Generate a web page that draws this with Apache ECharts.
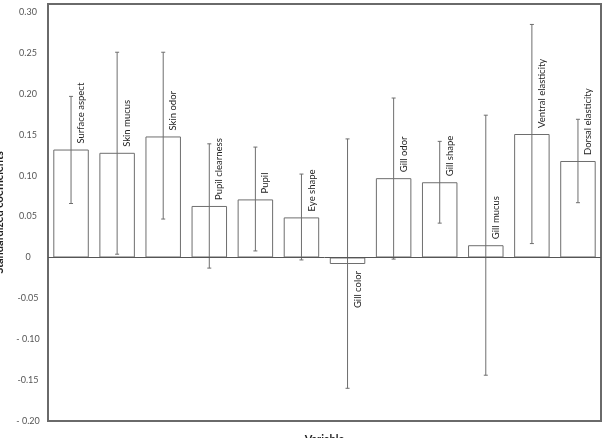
<!DOCTYPE html>
<html><head><meta charset="utf-8">
<script src="https://cdn.jsdelivr.net/npm/echarts@6/dist/echarts.min.js"></script>
<style>html,body{margin:0;padding:0;background:#fff}#c{width:603px;height:438px}</style>
</head><body><div id="c"></div>
<script>
const categories = ['Surface aspect','Skin mucus','Skin odor','Pupil clearness','Pupil','Eye shape','Gill color','Gill odor','Gill shape','Gill mucus','Ventral elasticity','Dorsal elasticity'];
const coefficients = [0.132, 0.128, 0.148, 0.063, 0.071, 0.049, -0.008, 0.097, 0.092, 0.015, 0.151, 0.118];
const errLow  = [0.066, 0.004, 0.047, -0.013, 0.008, -0.003, -0.160, -0.002, 0.042, -0.144, 0.017, 0.067];
const errHigh = [0.197, 0.251, 0.251, 0.139, 0.135, 0.102, 0.145, 0.195, 0.142, 0.174, 0.285, 0.169];
const yTickValues = [-0.20, -0.15, -0.10, -0.05, 0, 0.05, 0.10, 0.15, 0.20, 0.25, 0.30];
const yTickLabels = ['- 0.20', '-0.15', '- 0.10', '-0.05', '0', '0.05', '0.10', '0.15', '0.20', '0.25', '0.30'];

const FONT = 'Lato, "Open Sans", sans-serif';
const chart = echarts.init(document.getElementById('c'), null, {renderer: 'canvas'});

const errData = categories.map((c, i) => [i, errLow[i], errHigh[i]]);
const labelData = categories.map((c, i) => [i, coefficients[i]]);

chart.setOption({
  animation: false,
  backgroundColor: '#fff',
  grid: {left: 48, right: 2, top: 4, bottom: 17, containLabel: false, outerBoundsMode: 'none',
    show: true, borderColor: '#6a6a6a', borderWidth: 2, backgroundColor: 'transparent'},
  xAxis: {
    type: 'category', data: categories,
    axisLine: {show: false, onZero: false}, axisTick: {show: false}, axisLabel: {show: false},
    name: 'Variable', nameLocation: 'middle', nameGap: 13,
    nameTextStyle: {fontFamily: FONT, fontWeight: 'bold', fontSize: 11, color: '#222'}
  },
  yAxis: {
    type: 'value', min: -0.2, max: 0.31, interval: 0.05,
    axisLine: {show: false}, axisTick: {show: false}, splitLine: {show: false},
    axisLabel: {
      margin: 20, align: 'center', color: '#555', fontSize: 9, fontFamily: FONT,
      formatter: function (v) {
        for (let k = 0; k < yTickValues.length; k++) {
          if (Math.abs(v - yTickValues[k]) < 1e-6) return yTickLabels[k];
        }
        return '';
      }
    },
    name: 'Standardized coefficients', nameLocation: 'middle', nameGap: 41,
    nameTextStyle: {fontFamily: FONT, fontWeight: 'bold', fontSize: 11, color: '#222'}
  },
  series: [
    {
      type: 'bar', data: coefficients, barCategoryGap: '23%',
      itemStyle: {color: '#fff', borderColor: '#6e6e6e', borderWidth: 1},
      markLine: {silent: true, symbol: 'none', label: {show: false},
        lineStyle: {color: '#555', width: 1, type: 'solid'}, data: [{yAxis: 0}]}
    },
    {
      type: 'custom', data: errData, z: 3,
      renderItem: function (params, api) {
        const i = api.value(0);
        const lo = api.coord([i, api.value(1)]);
        const hi = api.coord([i, api.value(2)]);
        const x = lo[0];
        const st = {stroke: '#6e6e6e', lineWidth: 1};
        return {type: 'group', children: [
          {type: 'line', shape: {x1: x, y1: lo[1], x2: x, y2: hi[1]}, style: st},
          {type: 'line', shape: {x1: x - 2, y1: lo[1], x2: x + 2, y2: lo[1]}, style: st},
          {type: 'line', shape: {x1: x - 2, y1: hi[1], x2: x + 2, y2: hi[1]}, style: st}
        ]};
      }
    },
    {
      type: 'custom', data: labelData, z: 4,
      renderItem: function (params, api) {
        const i = api.value(0);
        const v = api.value(1);
        const p = api.coord([i, v]);
        const pos = v >= 0;
        return {
          type: 'text', x: p[0] + 10, y: pos ? p[1] - 6 : p[1] + 7, rotation: Math.PI / 2,
          style: {text: categories[i], fill: '#222', font: '9.5px ' + FONT,
            align: pos ? 'left' : 'right', verticalAlign: 'middle'}
        };
      }
    }
  ]
});
</script></body></html>
